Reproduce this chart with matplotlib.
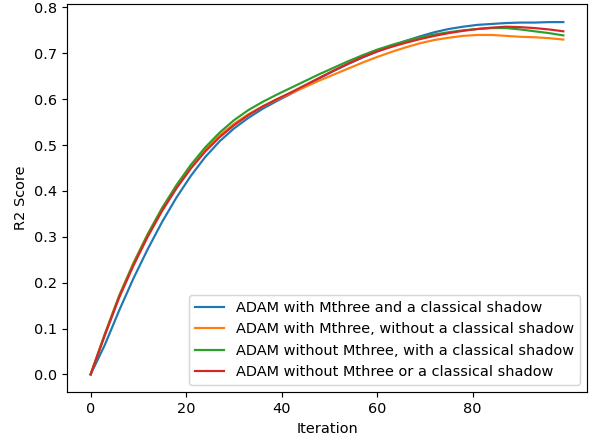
import matplotlib
matplotlib.use("Agg")
import matplotlib.pyplot as plt

iterations = list(range(0, 100, 3))

adam_m3_shadow = [0.000, 0.065, 0.140, 0.210, 0.274, 0.333, 0.386, 0.433, 0.474, 0.508,
                  0.536, 0.559, 0.579, 0.596, 0.612, 0.629, 0.646, 0.662, 0.677, 0.691,
                  0.704, 0.716, 0.727, 0.737, 0.746, 0.753, 0.758, 0.762, 0.764, 0.766,
                  0.767, 0.767, 0.768, 0.768]
adam_m3_noshadow = [0.000, 0.089, 0.173, 0.244, 0.307, 0.363, 0.412, 0.455, 0.491, 0.521,
                    0.546, 0.567, 0.584, 0.599, 0.613, 0.627, 0.641, 0.654, 0.667, 0.680,
                    0.692, 0.703, 0.713, 0.722, 0.729, 0.734, 0.738, 0.740, 0.740, 0.738,
                    0.736, 0.735, 0.733, 0.730]
adam_nom3_shadow = [0.000, 0.088, 0.171, 0.242, 0.306, 0.363, 0.413, 0.457, 0.495, 0.527,
                    0.554, 0.576, 0.594, 0.610, 0.625, 0.640, 0.655, 0.669, 0.683, 0.696,
                    0.708, 0.718, 0.727, 0.735, 0.741, 0.746, 0.750, 0.753, 0.755, 0.755,
                    0.752, 0.748, 0.744, 0.739]
adam_nom3_noshadow = [0.000, 0.086, 0.168, 0.238, 0.301, 0.357, 0.406, 0.449, 0.486, 0.517,
                      0.543, 0.565, 0.584, 0.600, 0.615, 0.631, 0.647, 0.663, 0.678, 0.692,
                      0.704, 0.714, 0.723, 0.731, 0.738, 0.744, 0.749, 0.753, 0.756, 0.758,
                      0.757, 0.755, 0.752, 0.748]

labels = ["ADAM with Mthree and a classical shadow",
          "ADAM with Mthree, without a classical shadow",
          "ADAM without Mthree, with a classical shadow",
          "ADAM without Mthree or a classical shadow"]

xtick_values = [0, 20, 40, 60, 80]

DPI = 104.7
fig = plt.figure(figsize=(589 / DPI, 438 / DPI), dpi=DPI)
ax = fig.add_axes([67 / 589, 46 / 438, 520 / 589, 387.5 / 438])
for series, lab in zip([adam_m3_shadow, adam_m3_noshadow, adam_nom3_shadow, adam_nom3_noshadow], labels):
    ax.plot(iterations, series, label=lab)
ax.set_xticks(xtick_values)
ax.set_xlabel("Iteration")
ax.set_ylabel("R2 Score")
ax.legend(loc="lower right")
fig.savefig("out.png", dpi=DPI)
